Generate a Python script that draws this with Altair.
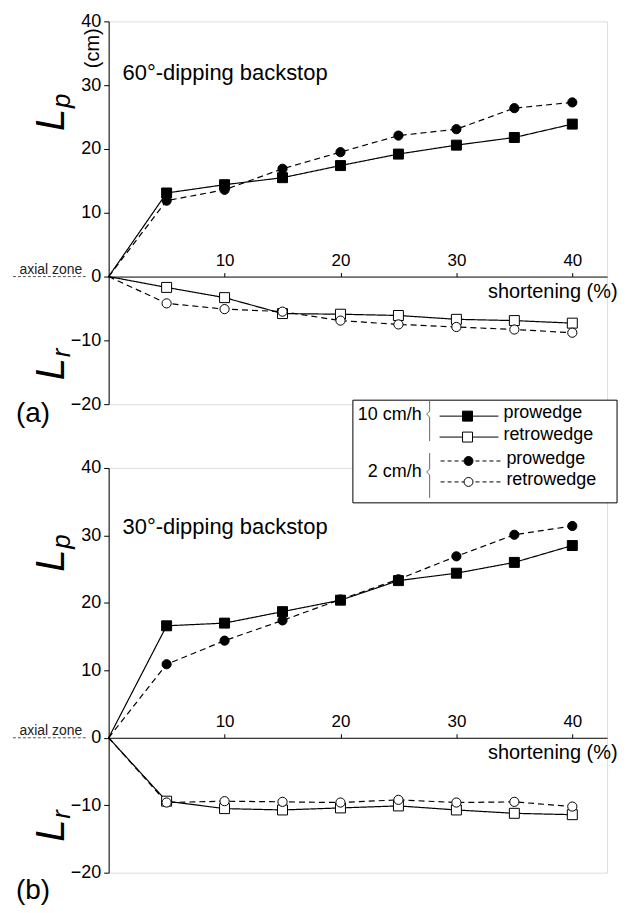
import altair as alt
import pandas as pd

# ---------------- data ----------------
shortening = [5, 10, 15, 20, 25, 30, 35, 40]

# (a) 60-degree dipping backstop
a_pro_10 = [13.1, 14.4, 15.5, 17.4, 19.2, 20.6, 21.8, 23.9]
a_retro_10 = [-1.7, -3.3, -5.8, -5.9, -6.1, -6.7, -6.9, -7.3]
a_pro_2 = [11.9, 13.6, 16.9, 19.5, 22.1, 23.1, 26.4, 27.3]
a_retro_2 = [-4.2, -5.1, -5.5, -6.9, -7.5, -7.9, -8.3, -8.8]

# (b) 30-degree dipping backstop
b_pro_10 = [16.6, 17.0, 18.7, 20.4, 23.3, 24.4, 26.0, 28.5]
b_retro_10 = [-9.4, -10.5, -10.7, -10.4, -10.1, -10.7, -11.2, -11.4]
b_pro_2 = [10.9, 14.4, 17.4, 20.5, 23.5, 26.9, 30.1, 31.4]
b_retro_2 = [-9.6, -9.4, -9.5, -9.6, -9.2, -9.6, -9.5, -10.2]

x_ticks = [10, 20, 30, 40]
y_ticks = [-20, -10, 0, 10, 20, 30, 40]
rates = ["10 cm/h", "2 cm/h"]
wedges = ["prowedge", "retrowedge"]

FONT = "Liberation Sans"
W = 500
X_DOMAIN = [0, 43]
Y_DOMAIN = [-20, 40]


def panel_df(pro10, retro10, pro2, retro2):
    rows = []
    for rate, wedge, vals in [("10 cm/h", "prowedge", pro10),
                              ("10 cm/h", "retrowedge", retro10),
                              ("2 cm/h", "prowedge", pro2),
                              ("2 cm/h", "retrowedge", retro2)]:
        name = rate + " " + wedge
        rows.append(dict(x=0, y=0, series=name, rate=rate, wedge=wedge, marker=0))
        for xv, yv in zip(shortening, vals):
            rows.append(dict(x=xv, y=yv, series=name, rate=rate, wedge=wedge, marker=1))
    return pd.DataFrame(rows)


def one():
    return alt.Data(values=[{"k": 1}])


def text(t, x, y, size, align="left", baseline="middle", angle=0, style="normal", color="black"):
    kw = dict(text=t, fontSize=size, font=FONT, align=align, baseline=baseline,
              color=color, fontStyle=style)
    if angle:
        kw["angle"] = angle
    return alt.Chart(one()).mark_text(**kw).encode(x=alt.value(x), y=alt.value(y))


def seg(x1, y1, x2, y2, color="black", width=1.0, dash=None, opacity=1.0):
    kw = dict(color=color, strokeWidth=width, strokeOpacity=opacity)
    if dash:
        kw["strokeDash"] = dash
    return alt.Chart(one()).mark_rule(**kw).encode(
        x=alt.value(x1), x2=alt.value(x2), y=alt.value(y1), y2=alt.value(y2))


def sym(x, y, shape, fill, size):
    return alt.Chart(one()).mark_point(shape=shape, filled=True, fill=fill, stroke="black",
                                       strokeWidth=1, size=size, opacity=1).encode(
        x=alt.value(x), y=alt.value(y))


def panel(df, H, title_txt, title_y, label, label_y, lp_start, lr_start, extra, cm=False):
    zero = H * Y_DOMAIN[1] / (Y_DOMAIN[1] - Y_DOMAIN[0])
    x_enc = alt.X("x:Q", scale=alt.Scale(domain=X_DOMAIN, nice=False, zero=False),
                  axis=alt.Axis(orient="top", offset=-zero, values=x_ticks, title="shortening (%)",
                                titleX=510, titleY=15, titleAlign="right", titleBaseline="middle",
                                titleAnchor="end", titleFontSize=20, titleFontWeight="normal",
                                titleFont=FONT, titleColor="black",
                                labelFont=FONT, labelFontSize=17, labelColor="black",
                                labelPadding=3, tickSize=4, tickColor="black",
                                domainColor="black", domainWidth=1, grid=False,
                                labelFlush=False, labelOverlap=False, format="d"))
    y_enc = alt.Y("y:Q", scale=alt.Scale(domain=Y_DOMAIN, nice=False, zero=False),
                  axis=alt.Axis(values=y_ticks, title=None, labelFont=FONT, labelFontSize=18,
                                labelColor="black", labelPadding=3, tickSize=5,
                                tickColor="black", domainColor="black", domainWidth=1,
                                grid=False, labelOverlap=False, format="d"))
    base = alt.Chart(df)
    lines = base.mark_line(color="black", strokeWidth=1.2).encode(
        x=x_enc, y=y_enc, detail="series:N", order="x:Q",
        strokeDash=alt.StrokeDash("rate:N", scale=alt.Scale(domain=rates, range=[[1, 0], [6, 4]]),
                                  legend=None))
    pts = base.transform_filter("datum.marker == 1").mark_point(
        filled=True, stroke="black", strokeWidth=1, opacity=1).encode(
        x="x:Q", y="y:Q",
        shape=alt.Shape("rate:N", scale=alt.Scale(domain=rates, range=["square", "circle"]), legend=None),
        fill=alt.Fill("wedge:N", scale=alt.Scale(domain=wedges, range=["black", "white"]), legend=None),
        size=alt.Size("rate:N", scale=alt.Scale(domain=rates, range=[100, 85]), legend=None))

    deco = [
        text(title_txt, 14, title_y, 22),
        text(label, -93, label_y, 28),
        seg(-96, zero, -21, zero, color="#555", width=1, dash=[3, 2]),
        text("axial zone", -58, zero - 7, 14, align="center", color="#222"),
        text("L", -45, lp_start, 40, baseline="alphabetic", angle=270, style="italic"),
        text("p", -39, lp_start - 23, 26, baseline="alphabetic", angle=270, style="italic"),
        text("L", -45, lr_start, 40, baseline="alphabetic", angle=270, style="italic"),
        text("r", -39, lr_start - 23, 26, baseline="alphabetic", angle=270, style="italic"),
    ]
    if cm:
        deco.append(text("(cm)", -16, 27, 20, align="center", angle=270))
    layers = [lines, pts] + deco + extra
    return alt.layer(*layers).properties(width=W, height=H)


# canvas extent helpers (invisible)
top_extent = [seg(-108, -19, 524, -19, opacity=0)]

# legend (drawn in lower panel's coordinates)
lx, lx2, ly, ly2 = 245, 510, -68, 35
legend = [
    alt.Chart(one()).mark_rect(fill="white", stroke="black", strokeWidth=1).encode(
        x=alt.value(lx), x2=alt.value(lx2), y=alt.value(ly), y2=alt.value(ly2)),
    # group 1 brace
    seg(322, -68, 322, -57, color="#666"), seg(322, -57, 319, -54, color="#666"),
    seg(319, -54, 322, -51, color="#666"), seg(322, -51, 322, -27, color="#666"),
    text("10 cm/h", 314, -53, 18, align="right"),
    seg(332, -52, 391, -52), sym(360, -52, "square", "black", 100),
    text("prowedge", 396, -55, 18),
    seg(332, -31, 391, -31), sym(360, -31, "square", "white", 100),
    text("retrowedge", 396, -33, 18),
    # group 2 brace
    seg(322, -15, 322, 1, color="#666"), seg(322, 1, 319, 4, color="#666"),
    seg(319, 4, 322, 7, color="#666"), seg(322, 7, 322, 30, color="#666"),
    text("2 cm/h", 314, 4, 18, align="right"),
    seg(333, -7, 395, -7, dash=[4, 3]), sym(361, -7, "circle", "black", 80),
    text("prowedge", 399, -9, 18),
    seg(333, 14, 395, 14, dash=[4, 3]), sym(361, 14, "circle", "white", 80),
    text("retrowedge", 399, 12, 18),
    # canvas bottom extent
    seg(-108, 446, 524, 446, opacity=0),
]

df_a = panel_df(a_pro_10, a_retro_10, a_pro_2, a_retro_2)
df_b = panel_df(b_pro_10, b_retro_10, b_pro_2, b_retro_2)

top = panel(df_a, 384, "60°-dipping backstop", 52, "(a)", 394, 110, 360, top_extent, cm=True)
bottom = panel(df_b, 406, "30°-dipping backstop", 59, "(b)", 424, 104, 375, legend)

chart = alt.vconcat(top, bottom, spacing=64, bounds="flush").properties(
    padding=0
).configure_view(stroke=None).configure(background="white")

chart.save("out.html", embed_options={"renderer": "svg", "actions": False})
